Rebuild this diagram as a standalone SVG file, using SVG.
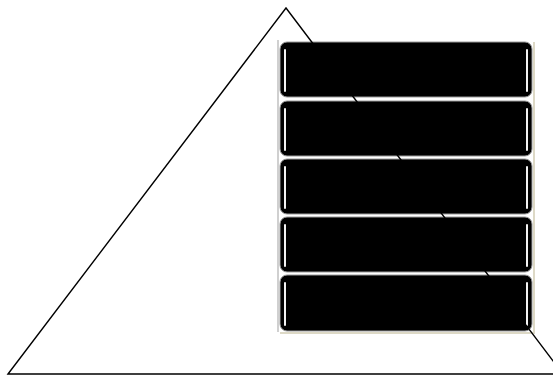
<svg xmlns="http://www.w3.org/2000/svg" width="553" height="376" viewBox="0 0 553 376">
<style>
.bar{fill:#000;stroke:#9a9a9a;stroke-width:1}
.hl{stroke:#f2f2f2;stroke-width:2;stroke-linecap:round;fill:none}
.tri{fill:none;stroke:#000;stroke-width:1.4;stroke-linejoin:miter}
</style>
<rect x="278" y="40" width="256" height="293" fill="#fff"/>
<path d="M278 40 V332" stroke="#d0d0d0" stroke-width="2"/>
<path d="M280 333 H534 V42" stroke="#ddd9c6" stroke-width="2" fill="none"/>
<g id="bar1"><rect class="bar" x="280" y="42" width="252" height="55" rx="7"/><path class="hl" d="M285 50 V91 M527 50 V91"/></g>
<g id="bar2"><rect class="bar" x="280" y="101" width="252" height="55" rx="7"/><path class="hl" d="M285 109 V150 M527 109 V150"/></g>
<g id="bar3"><rect class="bar" x="280" y="159" width="252" height="55" rx="7"/><path class="hl" d="M285 167 V208 M527 167 V208"/></g>
<g id="bar4"><rect class="bar" x="280" y="217" width="252" height="55" rx="7"/><path class="hl" d="M285 225 V266 M527 225 V266"/></g>
<g id="bar5"><rect class="bar" x="280" y="275" width="252" height="56" rx="7"/><path class="hl" d="M285 283 V325 M527 283 V325"/></g>
<g id="triangle"><path class="tri" d="M8 374 L286 8 L563 374 Z"/></g>
</svg>
